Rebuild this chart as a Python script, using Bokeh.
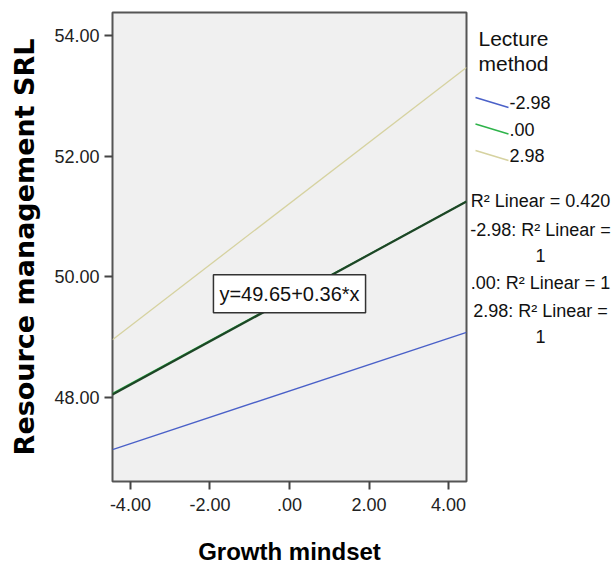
from bokeh.plotting import figure
from bokeh.models import Range1d, FixedTicker, Label
from bokeh.layouts import row
from bokeh.core.properties import value
from bokeh.embed import file_html
from bokeh.resources import INLINE

# ---- data ----
growth_x = [-4.45, 4.45]                 # x extent of the fit lines
lecture_levels = ["-2.98", ".00", "2.98"]
srl_low = [47.14, 49.08]                 # Lecture method = -2.98
srl_mid = [48.07, 51.25]                 # Lecture method = .00
srl_high = [48.96, 53.47]                # Lecture method = 2.98
fit_total = [48.05, 51.25]               # total fit y=49.65+0.36*x
x_ticks = [-4, -2, 0, 2, 4]
x_tick_labels = ["-4.00", "-2.00", ".00", "2.00", "4.00"]
y_ticks = [48, 50, 52, 54]
y_tick_labels = ["48.00", "50.00", "52.00", "54.00"]
legend_title = ["Lecture", "method"]
r2_lines = ["R\u00b2 Linear = 0.420", "-2.98: R\u00b2 Linear =", "1",
            ".00: R\u00b2 Linear = 1", "2.98: R\u00b2 Linear =", "1"]
equation = "y=49.65+0.36*x"

# ---- layout ----
W, H = 613, 569
MAIN_W = 468
FL, FR, FT, FB = 112, 466, 12, 481
XR = (-4.45, 4.45)
YR = (46.61, 54.38)

blue, green, beige, dark = "#4a60c8", "#2eb34a", "#d6d2a0", "#1d4626"
series_colors = [blue, green, beige]
FONT = "Liberation Sans"

p = figure(width=MAIN_W, height=H, x_range=Range1d(*XR), y_range=Range1d(*YR),
           output_backend="svg", toolbar_location=None,
           min_border_left=FL, min_border_right=MAIN_W - FR,
           min_border_top=FT, min_border_bottom=H - FB)

p.background_fill_color = "#f0f0f0"
p.border_fill_color = "white"
p.outline_line_color = "#555555"
p.outline_line_width = 2
p.grid.visible = False

for ax, ticks, labels in ((p.xaxis, x_ticks, x_tick_labels), (p.yaxis, y_ticks, y_tick_labels)):
    ax.ticker = FixedTicker(ticks=ticks)
    ax.major_label_overrides = {t: l for t, l in zip(ticks, labels)}
    ax.axis_line_color = None
    ax.minor_tick_line_color = None
    ax.major_tick_in = 0
    ax.major_tick_out = 8
    ax.major_tick_line_width = 2
    ax.major_tick_line_color = "#444444"
    ax.major_label_text_font = FONT
    ax.major_label_text_font_size = "18px"
    ax.major_label_text_color = "#222222"
    ax.axis_label_text_font_style = "bold"
    ax.axis_label_text_color = "black"

p.xaxis.major_label_standoff = 8
p.xaxis.axis_label = "Growth mindset"
p.xaxis.axis_label_text_font = FONT
p.xaxis.axis_label_text_font_size = "24px"
p.xaxis.axis_label_standoff = 24

p.yaxis.axis_label = "Resource management SRL"
p.yaxis.axis_label_text_font = "DejaVu Sans"
p.yaxis.axis_label_text_font_size = "27px"
p.yaxis.axis_label_standoff = 11

# ---- lines ----
for vals, col in zip([srl_low, srl_mid, srl_high], series_colors):
    p.line(growth_x, vals, line_color=col, line_width=1.3)
p.line(growth_x, fit_total, line_color=dark, line_width=2.2)

# ---- equation box ----
p.add_layout(Label(x=0, y=49.72, text=equation, text_font=FONT, text_font_size="20px",
                   text_align="center", text_baseline="middle", text_color="#111111",
                   background_fill_color="white", border_line_color="#333333",
                   border_line_width=1.5, padding=dict(left=6, right=6, top=8, bottom=8)))

# ---- legend panel (SPSS style, slanted samples), page-pixel coordinates ----
# the row layout aligns this panel's frame with the main frame (FT..FB)
SIDE_W = W - MAIN_W
side = figure(width=SIDE_W, height=H, x_range=Range1d(0, SIDE_W), y_range=Range1d(FB, FT),
              output_backend="svg", toolbar_location=None, min_border=0)
side.axis.visible = False
side.grid.visible = False
side.outline_line_color = None
side.background_fill_color = "white"
side.border_fill_color = "white"

def sx(px):
    return px - MAIN_W

title_y = [38, 63]
side.text(x=[sx(478)] * len(legend_title), y=title_y, text=legend_title,
          text_font=value(FONT), text_font_size=value("21px"),
          text_baseline="middle", text_align="left", text_color="#111111")

item_y = [102, 128.5, 155]
side.segment(x0=[sx(475)] * 3, y0=[y - 5 for y in item_y],
             x1=[sx(508)] * 3, y1=[y + 5 for y in item_y],
             line_color=series_colors, line_width=1.5)
side.text(x=[sx(509)] * 3, y=item_y, text=lecture_levels,
          text_font=value(FONT), text_font_size=value("18px"),
          text_baseline="middle", text_align="left", text_color="#111111")

r2_y = [200, 229, 255, 282, 310, 336]
side.text(x=[sx(540)] * len(r2_lines), y=r2_y, text=r2_lines,
          text_font=value(FONT), text_font_size=value("18px"),
          text_baseline="middle", text_align="center", text_color="#111111")

layout = row(p, side, spacing=0)
open("out.html", "w").write(file_html(layout, INLINE))
